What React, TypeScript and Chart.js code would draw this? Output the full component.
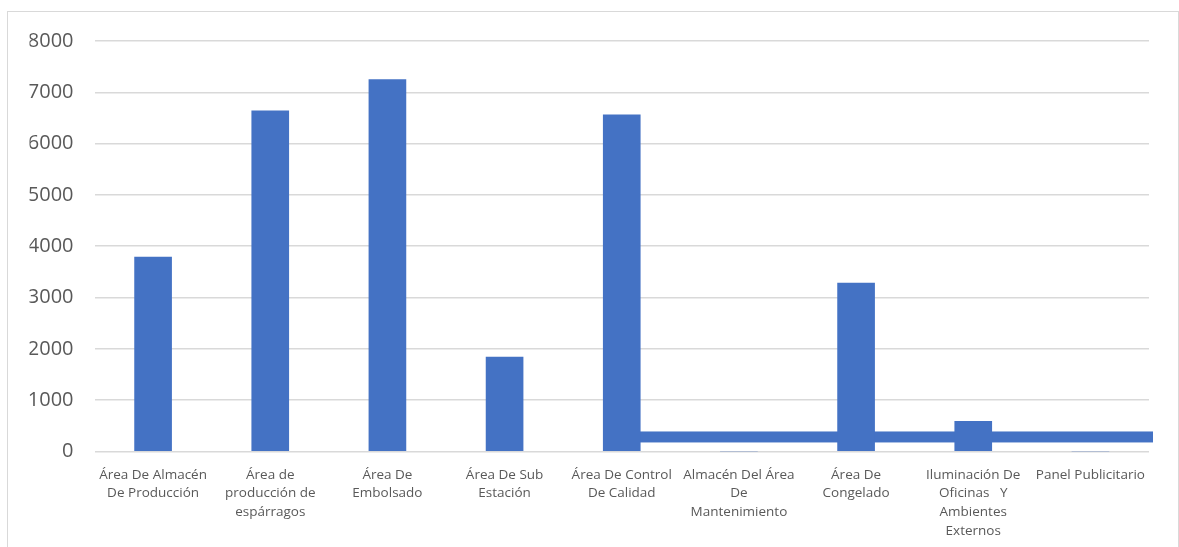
import React, { useEffect, useRef } from "react";
import { Chart, registerables } from "chart.js";

Chart.register(...registerables);

const categories: string[][] = [
  ["Área De Almacén", "De Producción"],
  ["Área de", "producción de", "espárragos"],
  ["Área De", "Embolsado"],
  ["Área De Sub", "Estación"],
  ["Área De Control", "De Calidad"],
  ["Almacén Del Área", "De", "Mantenimiento"],
  ["Área De", "Congelado"],
  ["Iluminación De", "Oficinas   Y", "Ambientes", "Externos"],
  ["Panel Publicitario"],
];

const values: number[] = [3790, 6640, 7250, 1840, 6560, 0, 3280, 590, 0];

// horizontal strip seen along the base, from the 5th category to the end
const baseBandX: number[] = [4, 8.5];
const baseBandLow = 176;
const baseBandHigh = 390;

const yTicks = { min: 0, max: 8000, step: 1000 };

const BAR_COLOR = "#4472C4";

const baseBandPlugin = {
  id: "baseBand",
  beforeDatasetsDraw(chart: any) {
    const x = chart.scales.x;
    const y = chart.scales.y;
    const x0 = x.getPixelForValue(baseBandX[0]);
    const x1 = x.getPixelForValue(baseBandX[1]);
    const yTop = y.getPixelForValue(baseBandHigh);
    const yBot = y.getPixelForValue(baseBandLow);
    const ctx = chart.ctx;
    ctx.save();
    ctx.fillStyle = BAR_COLOR;
    ctx.fillRect(x0, yTop, x1 - x0 + 4, yBot - yTop);
    ctx.restore();
  },
};

export default function App() {
  const ref = useRef<HTMLCanvasElement | null>(null);

  useEffect(() => {
    if (!ref.current) return;
    const chart = new Chart(ref.current, {
      type: "bar",
      data: {
        labels: categories,
        datasets: [
          {
            data: values,
            backgroundColor: BAR_COLOR,
            barThickness: 37,
          },
        ],
      },
      plugins: [baseBandPlugin],
      options: {
        animation: false,
        responsive: false,
        maintainAspectRatio: false,
        layout: { padding: { left: 29.5, right: 30, top: 41, bottom: 8 } },
        plugins: { legend: { display: false }, tooltip: { enabled: false } },
        scales: {
          x: {
            type: "category",
            offset: true,
            grid: { display: false, drawTicks: false },
            border: { display: false },
            afterFit: (s: any) => {
              s.paddingLeft = 0;
              s.paddingRight = 0;
            },
            ticks: {
              color: "#595959",
              font: { family: "'Open Sans'", size: 13.5, lineHeight: 1.38 },
              padding: 14,
              maxRotation: 0,
              autoSkip: false,
            },
          },
          y: {
            min: yTicks.min,
            max: yTicks.max,
            afterFit: (s: any) => {
              s.width = 65;
            },
            ticks: {
              stepSize: yTicks.step,
              color: "#595959",
              font: { family: "'Open Sans'", size: 20 },
              padding: 21,
              callback: (v: any) => String(v),
            },
            grid: { color: "#d9d9d9", lineWidth: 1.5, drawTicks: false },
            border: { display: false },
          },
        },
      },
    });
    return () => chart.destroy();
  }, []);

  return (
    <div>
      <div
        style={{
          position: "fixed",
          left: 7,
          top: 11,
          width: 1172,
          height: 600,
          border: "1.5px solid #d9d9d9",
          boxSizing: "border-box",
        }}
      />
      <canvas
        ref={ref}
        width={1179}
        height={562}
        style={{ position: "fixed", left: 0, top: 0, width: 1179, height: 562 }}
      />
    </div>
  );
}
